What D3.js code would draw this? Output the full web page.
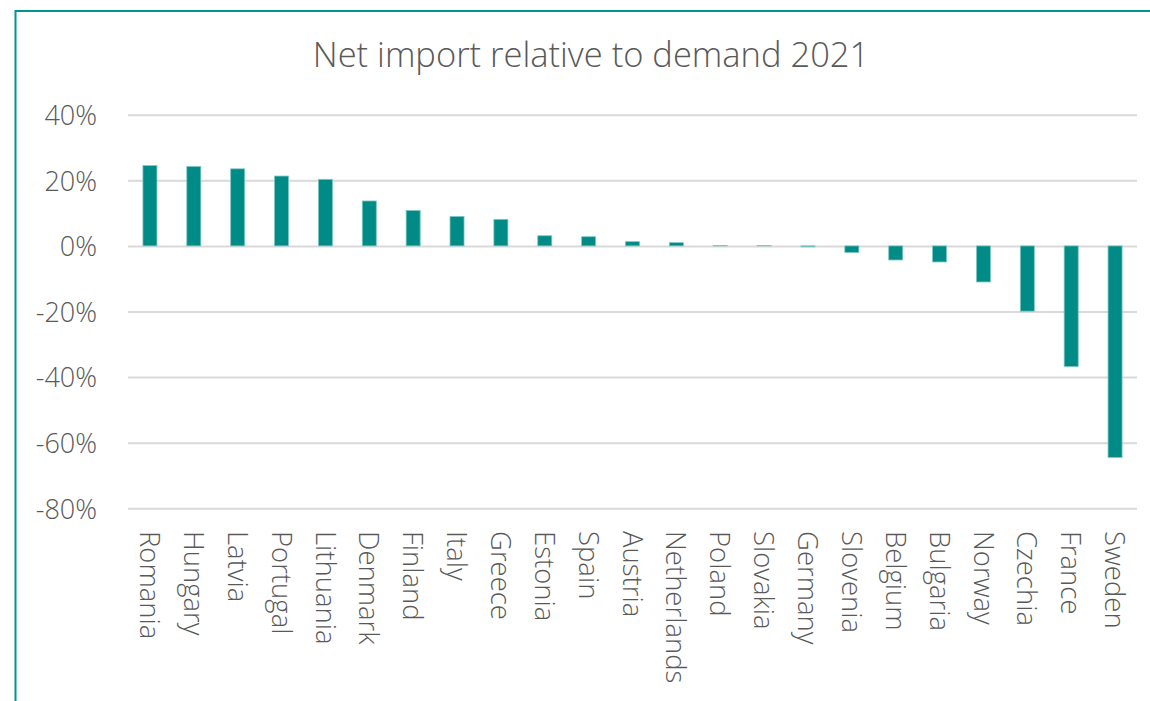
<!DOCTYPE html>
<html>
<head>
<meta charset="utf-8">
<script src="https://cdn.jsdelivr.net/npm/d3@7"></script>
<style>
	body { margin: 0; background: #fff; }
	svg text { font-family: "Open Sans", "Noto Sans", sans-serif; fill: #595959; }
</style>
</head>
<body>
<svg id="chart"></svg>
<script>
// countries, sorted as in the original chart
let countries = ["Romania", "Hungary", "Latvia", "Portugal", "Lithuania", "Denmark", "Finland",
	"Italy", "Greece", "Estonia", "Spain", "Austria", "Netherlands", "Poland", "Slovakia",
	"Germany", "Slovenia", "Belgium", "Bulgaria", "Norway", "Czechia", "France", "Sweden"];

// net import relative to demand, in %
let netImport = [24.5, 24.2, 23.5, 21.3, 20.3, 13.7, 10.8, 9.0, 8.1, 3.1, 2.8, 1.3, 1.0,
	0.1, 0.1, -0.3, -2.0, -4.3, -4.9, -11.0, -19.9, -36.8, -64.5];

let yTicks = [40, 20, 0, -20, -40, -60, -80];

let title = "Net import relative to demand 2021";

let width = 1150;
let height = 701;
let teal = "#008b86";

let data = countries.map((c, i) => { return {name: c, value: netImport[i]} });

let svg = d3.select('#chart')
	.attr('width', width)
	.attr('height', height);

// frame (only top and left edges are visible in the picture)
svg.append('path')
	.attr('d', 'M15.5,' + height + ' V11 H' + width)
	.attr('fill', 'none')
	.attr('stroke', '#00968f')
	.attr('stroke-width', 2);

let x = d3.scaleBand()
	.domain(countries)
	.range([128, 1137])
	.paddingInner(0.68)
	.paddingOuter(0.34);

let y = d3.scaleLinear()
	.domain([-80, 40])
	.range([508.3, 114.7]);

// title
svg.append('text')
	.attr('x', 591)
	.attr('y', 67)
	.attr('text-anchor', 'middle')
	.style('font-size', '34.5px')
	.style('font-weight', 300)
	.text(title);

// gridlines + y labels
let yAxis = svg.append('g')
	.call(d3.axisLeft(y)
		.tickValues(yTicks)
		.tickSize(-(1137 - 128))
		.tickPadding(31)
		.tickFormat(d => d + '%'))
	.attr('transform', 'translate(128,0)');

yAxis.select('.domain').remove();
yAxis.selectAll('.tick line')
	.attr('stroke', '#d9d9d9')
	.attr('stroke-width', 2);
yAxis.selectAll('.tick text')
	.attr('font-family', null)
	.style('font-size', '27px')
	.style('font-weight', 300)
	.attr('dy', '0.36em');

// bars
svg.append('g')
	.selectAll('rect')
	.data(data)
	.enter()
	.append('rect')
	.attr('x', d => x(d.name))
	.attr('width', x.bandwidth())
	.attr('y', d => Math.min(y(d.value), y(0)))
	.attr('height', d => Math.abs(y(d.value) - y(0)))
	.attr('fill', teal)
	.attr('stroke', '#7fc8c4')
	.attr('stroke-width', 0.8);

// category labels, rotated
svg.append('g')
	.selectAll('text')
	.data(data)
	.enter()
	.append('text')
	.attr('transform', d => 'translate(' + (x(d.name) + x.bandwidth() / 2) + ',531) rotate(90)')
	.attr('dy', '0.36em')
	.style('font-size', '27.5px')
	.style('font-weight', 300)
	.text(d => d.name);
</script>
</body>
</html>
